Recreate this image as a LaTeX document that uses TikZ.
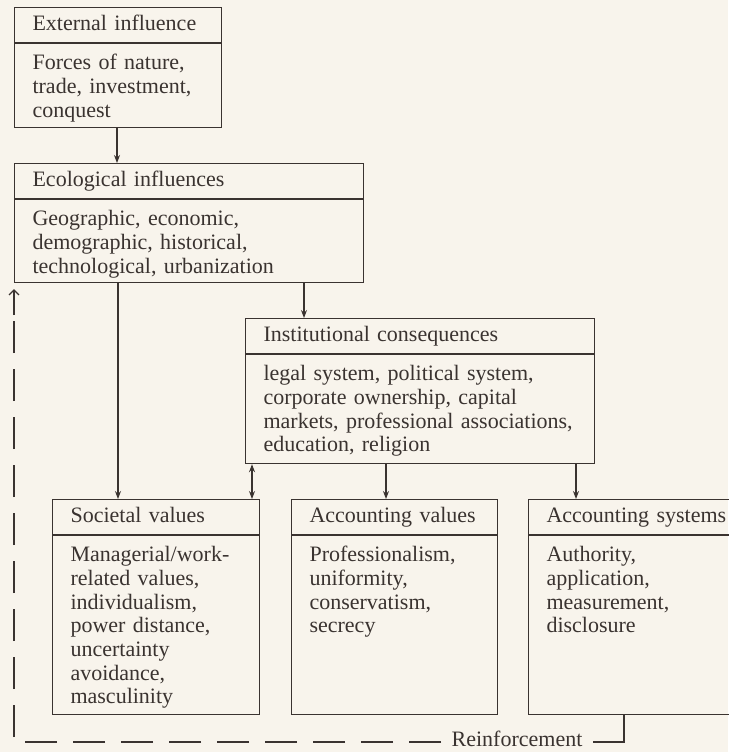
\documentclass[tikz,border=0pt]{standalone}
\usepackage{fontspec}
\setmainfont{Liberation Serif}
\usetikzlibrary{arrows.meta}
\definecolor{ink}{HTML}{3A3330}
\definecolor{paper}{HTML}{F8F4EC}
\newcommand\padleft{\leftskip=18pt\relax}
\newcommand\boxfont{\fontsize{22}{23.7}\selectfont}
\begin{document}
\begin{tikzpicture}[x=1pt, y=-1pt, color=ink, line width=1.1pt,
    head/.style={draw, anchor=north west, inner xsep=0pt, inner ysep=7pt, text width=#1, text height=16pt, text depth=5pt, align=left, font=\boxfont, execute at begin node=\padleft},
    body/.style 2 args={draw, anchor=north west, inner xsep=0pt, inner ysep=8pt, text width=#1, text height=18pt, text depth=#2, align=left, font=\boxfont, execute at begin node=\padleft},
    arr/.style={-{Stealth[length=8pt,width=6pt]}},
    twoarr/.style={{Stealth[length=8pt,width=6pt]}-{Stealth[length=8pt,width=6pt]}},
    back/.style={dash pattern=on 32pt off 16pt}]
    \useasboundingbox (0,0) rectangle (728,752);
    \fill[paper] (0,0) rectangle (728,752);
    \node[head=207pt] (exth) at (14,7) {External influence};
    \node[body={207pt}{50pt}] (extb) at (exth.south west) {Forces of nature,\\ trade, investment,\\ conquest};
    \node[head=349pt] (ecoh) at (14,163) {Ecological influences};
    \node[body={349pt}{49pt}] (ecob) at (ecoh.south west) {Geographic, economic,\\ demographic, historical,\\ technological, urbanization};
    \node[head=349pt] (insth) at (245,318) {Institutional consequences};
    \node[body={349pt}{75pt}] (instb) at (insth.south west) {legal system, political system,\\ corporate ownership, capital\\ markets, professional associations,\\ education, religion};
    \node[head=207pt] (soch) at (52,499) {Societal values};
    \node[body={207pt}{145pt}] (socb) at (soch.south west) {Managerial/work-\\ related values,\\ individualism,\\ power distance,\\ uncertainty\\ avoidance,\\ masculinity};
    \node[head=206pt] (valh) at (291,499) {Accounting values};
    \node[body={206pt}{145pt}] (valb) at (valh.south west) {Professionalism,\\ uniformity,\\ conservatism,\\ secrecy};
    \node[head=207pt] (sysh) at (528,499) {Accounting systems};
    \node[body={207pt}{145pt}] (sysb) at (sysh.south west) {Authority,\\ application,\\ measurement,\\ disclosure};
    \draw[arr] ([xshift=103pt]extb.south west) -- ([xshift=103pt]ecoh.north west);
    \draw[arr] ([xshift=104pt]ecob.south west) -- ([xshift=66pt]soch.north west);
    \draw[arr] ([xshift=290pt]ecob.south west) -- ([xshift=59pt]insth.north west);
    \draw[twoarr] ([xshift=7pt]instb.south west) -- ([xshift=200pt]soch.north west);
    \draw[arr] ([xshift=141pt]instb.south west) -- ([xshift=95pt]valh.north west);
    \draw[arr] ([xshift=331pt]instb.south west) -- ([xshift=48pt]sysh.north west);
    \node[font=\boxfont, inner xsep=10pt, inner ysep=0pt] (reinf) at (517,739) {Reinforcement};
    \coordinate (ret) at ([yshift=-32pt]ecob.south west);
    \draw ([xshift=96pt]sysb.south west) |- ([yshift=-3pt]reinf.east);
    \draw[back] ([yshift=-3pt]reinf.west) -| (ret);
    \draw[-{Straight Barb[length=5pt,width=10pt]}] (ret) -- ([yshift=-6pt]ecob.south west);
\end{tikzpicture}
\end{document}
